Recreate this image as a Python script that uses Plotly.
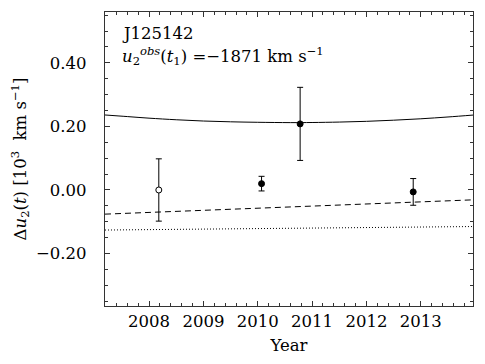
import plotly.graph_objects as go

# observations
obs_year = [2008.18, 2010.07, 2010.78, 2012.86]
obs_val = [0.000, 0.020, 0.208, -0.006]
obs_err = [0.098, 0.023, 0.115, 0.042]
obs_open = [True, False, False, False]

# model curves
curve_year = [2007.19, 2007.6, 2008.0, 2008.5, 2009.0, 2009.5, 2010.0, 2010.6,
              2011.0, 2011.5, 2012.0, 2012.5, 2013.0, 2013.5, 2013.96]
curve_val = [0.236, 0.231, 0.226, 0.221, 0.217, 0.2145, 0.213, 0.212,
             0.2123, 0.2137, 0.216, 0.2196, 0.224, 0.2297, 0.2357]
dash_year = [2007.19, 2013.96]
dash_val = [-0.076, -0.031]
dot_year = [2007.19, 2013.96]
dot_val = [-0.126, -0.115]

x_ticks = [2008, 2009, 2010, 2011, 2012, 2013]
y_ticks = [-0.2, 0.0, 0.2, 0.4]
y_tick_text = ["\u22120.20", "0.00", "0.20", "0.40"]
x_range = [2007.19, 2013.96]
y_range = [-0.365, 0.56]

FONT = "DejaVu Serif"
fig = go.Figure()
fig.add_trace(go.Scatter(x=curve_year, y=curve_val, mode="lines",
                         line=dict(color="black", width=1), line_shape="spline"))
fig.add_trace(go.Scatter(x=dash_year, y=dash_val, mode="lines",
                         line=dict(color="black", width=1, dash="6px,4px")))
fig.add_trace(go.Scatter(x=dot_year, y=dot_val, mode="lines",
                         line=dict(color="black", width=1, dash="1px,2px")))
for xv, yv, ev, op in zip(obs_year, obs_val, obs_err, obs_open):
    fig.add_trace(go.Scatter(
        x=[xv], y=[yv], mode="markers",
        error_y=dict(type="data", array=[ev], color="black", thickness=1, width=3),
        marker=dict(size=6, color="white" if op else "black",
                    line=dict(color="black", width=1),
                    symbol="circle")))
# invisible trace to carry the mirrored (top/right) axes
fig.add_trace(go.Scatter(x=[x_range[0]], y=[y_range[0]], xaxis="x2", yaxis="y2",
                         mode="markers", marker=dict(opacity=0), hoverinfo="skip"))

axis_common = dict(showline=True, linecolor="#333", linewidth=1.3,
                   ticks="inside", ticklen=5, tickcolor="#333", tickwidth=1,
                   showgrid=False, zeroline=False,
                   tickfont=dict(family=FONT, size=16.5, color="black"))
fig.update_layout(
    width=477, height=356,
    margin=dict(l=97, r=12, t=4, b=58),
    paper_bgcolor="white", plot_bgcolor="white",
    showlegend=False,
    font=dict(family=FONT, color="black"),
    xaxis=dict(range=x_range, tickvals=x_ticks,
               minor=dict(dtick=0.2, tick0=2008, ticks="inside", ticklen=3, tickcolor="#333"),
               title=dict(text="Year", font=dict(family=FONT, size=16.5), standoff=9),
               **axis_common),
    yaxis=dict(range=y_range, tickvals=y_ticks, ticktext=y_tick_text,
               minor=dict(dtick=0.05, tick0=0, ticks="inside", ticklen=3, tickcolor="#333"),
               ticklabelstandoff=14,
               title=dict(text="\u0394<i>u</i><sub>2</sub>(<i>t</i>) [10<sup>3</sup>  km s<sup>\u22121</sup>]",
                          font=dict(family=FONT, size=16.5), standoff=8),
               **axis_common),
    xaxis2=dict(range=x_range, overlaying="x", side="top", tickvals=x_ticks,
                showticklabels=False,
                minor=dict(dtick=0.2, tick0=2008, ticks="inside", ticklen=3, tickcolor="#333"),
                **axis_common),
    yaxis2=dict(range=y_range, overlaying="y", side="right", tickvals=y_ticks,
                showticklabels=False,
                minor=dict(dtick=0.05, tick0=0, ticks="inside", ticklen=3, tickcolor="#333"),
                **axis_common),
)
fig.add_annotation(xref="paper", yref="paper", x=0.04, y=0.928, xanchor="left", yanchor="middle",
                   text="J125142", showarrow=False, font=dict(family=FONT, size=16.5))
fig.add_annotation(xref="paper", yref="paper", x=0.04, y=0.85, xanchor="left", yanchor="middle",
                   text="<i>u</i><sub>2</sub><sup><i>obs</i></sup>(<i>t</i><sub>1</sub>) =\u22121871 km s<sup>\u22121</sup>",
                   showarrow=False, font=dict(family=FONT, size=16.5))
fig.write_html("out.html")
